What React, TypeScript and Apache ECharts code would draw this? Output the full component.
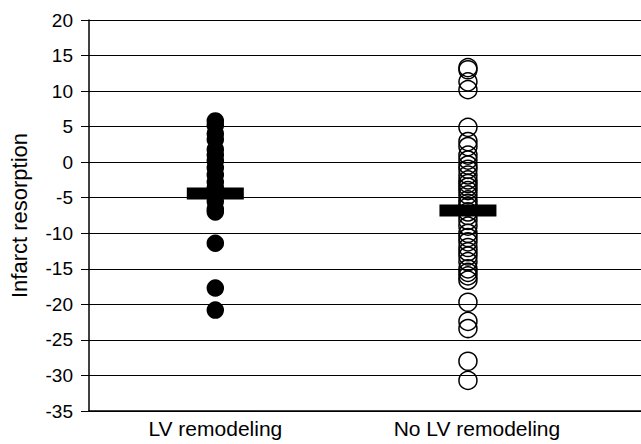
import React, { useEffect, useRef } from "react";
import * as echarts from "echarts";

const categories = ["LV remodeling", "No LV remodeling"];
const categoryX = [1, 3];
const remodelingValues = [5.8, 5.2, 4.0, 3.2, 1.8, 1.0, 0.2, -0.8, -1.8, -2.8, -3.6, -4.5, -5.5, -6.6, -7.0, -11.4, -17.7, -20.8];
const noRemodelingValues = [13.3, 13.0, 11.3, 10.2, 4.9, 2.9, 2.2, 1.0, 0.3, -0.4, -1.0, -1.8, -2.5, -3.0, -3.5, -4.0, -4.6, -5.3, -5.8, -6.3, -7.0, -7.5, -8.2, -9.0, -10.0, -10.6, -11.2, -12.0, -12.6, -13.2, -14.0, -15.0, -15.5, -16.0, -16.6, -19.7, -22.4, -23.4, -28.0, -30.7];
const means = [-4.4, -6.8];
const yTicks = { min: -35, max: 20, interval: 5 };

export default function App() {
  const ref = useRef<HTMLDivElement>(null);
  useEffect(() => {
    const chart = echarts.init(ref.current!, null, { renderer: "svg" });
    const font = "'Liberation Sans', Arial, sans-serif";
    chart.setOption({
      animation: false,
      backgroundColor: "#fff",
      grid: { left: 86, right: 0, top: 20, bottom: 33 },
      xAxis: {
        type: "value",
        min: 0,
        max: 4.37,
        interval: 1,
        splitLine: { show: false },
        axisTick: { show: false },
        axisLine: { show: true, onZero: false, lineStyle: { color: "#000", width: 1.5 } },
        axisLabel: {
          color: "#000",
          fontFamily: font,
          fontSize: 21,
          margin: 7,
          showMinLabel: false,
          showMaxLabel: false,
          formatter: (v: number) => {
            const i = categoryX.indexOf(Math.round(v * 100) / 100);
            if (i < 0) return "";
            return i === 0 ? `{a|${categories[i]}}` : `{b|${categories[i]}}`;
          },
          rich: {
            a: { color: "#000", fontFamily: font, fontSize: 21, padding: [0, 0, 0, 0] },
            b: { color: "#000", fontFamily: font, fontSize: 21, padding: [0, 0, 0, 18] },
          },
        },
      },
      yAxis: {
        type: "value",
        min: yTicks.min,
        max: yTicks.max,
        interval: yTicks.interval,
        name: "Infarct resorption",
        nameLocation: "middle",
        nameGap: 59,
        nameRotate: 90,
        nameTextStyle: { color: "#000", fontFamily: font, fontSize: 22 },
        axisLine: { show: true, lineStyle: { color: "#000", width: 1.5 } },
        axisTick: { show: true, inside: false, length: 8, lineStyle: { color: "#000", width: 1 } },
        axisLabel: { color: "#000", fontFamily: font, fontSize: 19, margin: 16 },
        splitLine: { show: true, lineStyle: { color: "#000", width: 1 } },
      },
      series: [
        {
          type: "scatter",
          data: remodelingValues.map((v) => [categoryX[0], v]),
          symbol: "circle",
          symbolSize: 17.5,
          itemStyle: { color: "#000", opacity: 1 },
          z: 3,
        },
        {
          type: "scatter",
          data: noRemodelingValues.map((v) => [categoryX[1], v]),
          symbol: "circle",
          symbolSize: 18,
          itemStyle: { color: "rgba(255,255,255,0)", borderColor: "#000", borderWidth: 1.5, opacity: 1 },
          z: 3,
        },
        {
          type: "scatter",
          data: means.map((v, i) => [categoryX[i], v]),
          symbol: "rect",
          symbolSize: [57, 12],
          itemStyle: { color: "#000", opacity: 1 },
          z: 4,
        },
      ],
    });
    return () => chart.dispose();
  }, []);
  return <div ref={ref} style={{ width: 641, height: 444, position: "absolute", left: 0, top: 0 }} />;
}
